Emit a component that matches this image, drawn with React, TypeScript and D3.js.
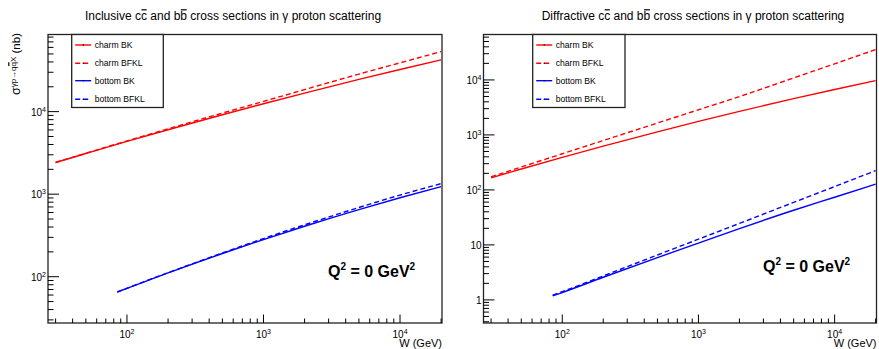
import React, { useRef, useEffect } from "react";
import * as d3 from "d3";

const wCharm = [30, 50, 100, 200, 500, 1000, 2000, 5000, 10000, 20000];
const wBottom = [85, 100, 200, 500, 1000, 2000, 5000, 10000, 20000];

// inclusive cross sections (nb)
const incCharmBK = [2420, 3110, 4355, 6040, 9180, 12470, 16790, 24560, 32400, 42400];
const incCharmBFKL = [2420, 3130, 4420, 6200, 9600, 13300, 18500, 28500, 39000, 53400];
const incBottomBK = [65.3, 72.4, 111.3, 191, 282, 409, 650, 904, 1236];
const incBottomBFKL = [65.3, 72.5, 112, 194, 290, 425, 690, 975, 1343];

// diffractive cross sections (nb)
const difCharmBK = [166, 240, 390, 625, 1138, 1760, 2680, 4564, 6706, 9705];
const difCharmBFKL = [173, 261, 454, 791, 1644, 2864, 4989, 10870, 19650, 35560];
const difBottomBK = [1.18, 1.36, 2.58, 5.87, 10.8, 19.8, 42.7, 73.5, 127];
const difBottomBFKL = [1.22, 1.41, 2.73, 6.55, 12.7, 24.6, 59.3, 115, 224];

const legendLabels = ["charm BK", "charm BFKL", "bottom BK", "bottom BFKL"];
const xTicks = [100, 1000, 10000];
const yTicksInc = [100, 1000, 10000];
const yTicksDif = [1, 10, 100, 1000, 10000];

const FONT = "'Liberation Sans', Arial, Helvetica, sans-serif";
const RED = "#ff0000";
const BLUE = "#0000ff";

const App = () => {
  const svgRef = useRef<SVGSVGElement>(null);

  useEffect(() => {
    const svg = d3.select(svgRef.current);
    svg.selectAll("*").remove();

    // draws an overline above char i of a text node
    const overline = (g: any, text: any, i: number, lift = 1) => {
      const node = text.node();
      const box = node.getExtentOfChar(i);
      g.append("line")
        .attr("x1", box.x + 0.5)
        .attr("x2", box.x + box.width - 0.3)
        .attr("y1", box.y + lift)
        .attr("y2", box.y + lift)
        .attr("stroke", "#000")
        .attr("stroke-width", 1.2);
    };

    const powText = (g: any, x: number, y: number, v: number, anchor: string) => {
      const e = Math.round(Math.log10(v));
      const t = g.append("text")
        .attr("x", x)
        .attr("y", y)
        .attr("text-anchor", anchor)
        .style("font-family", FONT)
        .style("font-size", "10px")
        .attr("fill", "#000");
      if (e === 0) t.text("1");
      else if (e === 1) t.text("10");
      else {
        t.append("tspan").text("10");
        t.append("tspan").attr("dy", -4).style("font-size", "7px").text(String(e));
      }
      return t;
    };

    const drawPanel = (cfg: any) => {
      const { x0, x1, y0, y1 } = cfg;
      const g = svg.append("g");
      const x = d3.scaleLog().domain([26.4, 20300]).range([x0, x1]);
      const y = d3.scaleLog().domain(cfg.yDomain).range([y1, y0]);

      // title
      const title = g.append("text")
        .attr("x", cfg.titleX)
        .attr("y", 20)
        .attr("text-anchor", "middle")
        .style("font-family", FONT)
        .style("font-size", "12px")
        .text(cfg.title);
      overline(g, title, cfg.title.indexOf("cc") + 1, 0.8);
      overline(g, title, cfg.title.indexOf("bb") + 1, 0.8);

      // curves
      const line = d3.line<[number, number]>()
        .x(d => x(d[0]))
        .y(d => y(d[1]))
        .curve(d3.curveMonotoneX);

      cfg.series.forEach((s: any) => {
        g.append("path")
          .attr("d", line(s.w.map((w: number, i: number) => [w, s.v[i]])))
          .attr("fill", "none")
          .attr("stroke", s.color)
          .attr("stroke-width", 1.4)
          .attr("stroke-dasharray", s.dash ? "5,3" : null);
      });

      // frame
      g.append("rect")
        .attr("x", x0)
        .attr("y", y0)
        .attr("width", x1 - x0)
        .attr("height", y1 - y0)
        .attr("fill", "none")
        .attr("stroke", "#222")
        .attr("stroke-width", 1.3);

      // x ticks
      const [xmin, xmax] = x.domain();
      for (let d = Math.floor(Math.log10(xmin)); d <= Math.ceil(Math.log10(xmax)); d++) {
        for (let m = 1; m <= 9; m++) {
          const v = m * Math.pow(10, d);
          if (v < xmin || v > xmax) continue;
          const len = m === 1 ? 8.5 : 4.5;
          g.append("line")
            .attr("x1", x(v)).attr("x2", x(v))
            .attr("y1", y1).attr("y2", y1 - len)
            .attr("stroke", "#000").attr("stroke-width", 1);
        }
      }
      xTicks.forEach(v => powText(g, x(v), 338, v, "middle"));

      g.append("text")
        .attr("x", x1)
        .attr("y", 347)
        .attr("text-anchor", "end")
        .style("font-family", FONT)
        .style("font-size", "11px")
        .text("W (GeV)");

      // y ticks
      const [ymin, ymax] = y.domain();
      for (let d = Math.floor(Math.log10(ymin)); d <= Math.ceil(Math.log10(ymax)); d++) {
        for (let m = 1; m <= 9; m++) {
          const v = m * Math.pow(10, d);
          if (v < ymin || v > ymax) continue;
          const len = m === 1 ? 11 : 5.5;
          g.append("line")
            .attr("x1", x0).attr("x2", x0 + len)
            .attr("y1", y(v)).attr("y2", y(v))
            .attr("stroke", "#000").attr("stroke-width", 1);
        }
      }
      cfg.yTicks.forEach((v: number) => powText(g, x0 - 2, y(v) + 4, v, "end"));

      // legend
      const L = cfg.legend;
      g.append("rect")
        .attr("x", L.x)
        .attr("y", y0)
        .attr("width", L.w)
        .attr("height", 73)
        .attr("fill", "#fff")
        .attr("stroke", "#222")
        .attr("stroke-width", 1.3);
      const rows = [45, 63.3, 80.7, 99.3];
      cfg.series.forEach((s: any, i: number) => {
        g.append("line")
          .attr("x1", L.x + 3.5).attr("x2", L.x + 19.5)
          .attr("y1", rows[i]).attr("y2", rows[i])
          .attr("stroke", s.color)
          .attr("stroke-width", 1.4)
          .attr("stroke-dasharray", s.dash ? "5,3" : null);
        g.append("rect")
          .attr("x", L.x + 11).attr("y", rows[i] - 0.75)
          .attr("width", 1).attr("height", 1.5)
          .attr("fill", "#000");
        g.append("text")
          .attr("x", L.x + 23)
          .attr("y", rows[i] + 3)
          .style("font-family", FONT)
          .style("font-size", "8.6px")
          .text(legendLabels[i]);
      });

      // Q^2 label
      const q = g.append("text")
        .attr("x", cfg.qX)
        .attr("y", cfg.qY)
        .style("font-family", FONT)
        .style("font-size", "16px")
        .style("font-weight", "bold");
      q.append("tspan").text("Q");
      q.append("tspan").attr("dy", -7).style("font-size", "10px").text("2");
      q.append("tspan").attr("dy", 7).text(" = 0 GeV");
      q.append("tspan").attr("dy", -7).style("font-size", "10px").text("2");

      return g;
    };

    const left = drawPanel({
      x0: 48, x1: 442, y0: 34.5, y1: 323,
      yDomain: [27.5, 86000],
      yTicks: yTicksInc,
      title: "Inclusive cc and bb cross sections in γ proton scattering",
      titleX: 233,
      legend: { x: 71.7, w: 91.6 },
      qX: 328, qY: 277,
      series: [
        { w: wCharm, v: incCharmBK, color: RED, dash: false },
        { w: wCharm, v: incCharmBFKL, color: RED, dash: true },
        { w: wBottom, v: incBottomBK, color: BLUE, dash: false },
        { w: wBottom, v: incBottomBFKL, color: BLUE, dash: true }
      ]
    });

    drawPanel({
      x0: 483.5, x1: 876.5, y0: 34.5, y1: 323,
      yDomain: [0.38, 67000],
      yTicks: yTicksDif,
      title: "Diffractive cc and bb cross sections in γ proton scattering",
      titleX: 693,
      legend: { x: 532.7, w: 92.3 },
      qX: 763, qY: 272,
      series: [
        { w: wCharm, v: difCharmBK, color: RED, dash: false },
        { w: wCharm, v: difCharmBFKL, color: RED, dash: true },
        { w: wBottom, v: difBottomBK, color: BLUE, dash: false },
        { w: wBottom, v: difBottomBFKL, color: BLUE, dash: true }
      ]
    });

    // y axis title (left panel only)
    const yt = left.append("g").attr("transform", "translate(20,33) rotate(-90)");
    const t = yt.append("text")
      .attr("x", 0)
      .attr("y", 0)
      .attr("text-anchor", "end")
      .style("font-family", FONT)
      .style("font-size", "11.5px");
    t.append("tspan").style("font-size", "12.5px").text("σ");
    t.append("tspan").attr("dy", -4.5).style("font-size", "8px").text("γp→qqX");
    t.append("tspan").attr("dy", 4.5).text(" (nb)");
    overline(yt, t, 5, 0.3);
  }, []);

  return (
    <svg
      ref={svgRef}
      width={879}
      height={349}
      style={{ position: "absolute", left: 0, top: 0, background: "#fff" }}
    />
  );
};

export default App;
